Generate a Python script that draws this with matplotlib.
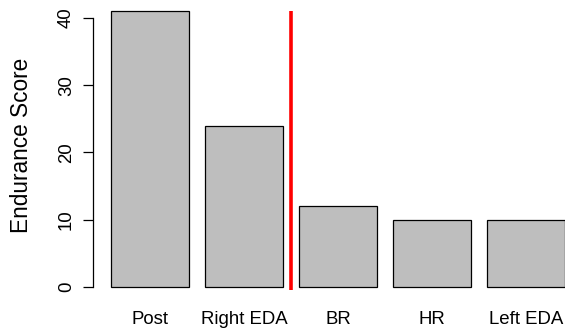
import matplotlib
matplotlib.use("Agg")
import matplotlib.pyplot as plt

plt.rcParams["font.family"] = ["Liberation Sans", "DejaVu Sans"]

# data
categorias = ["Post", "Right EDA", "BR", "HR", "Left EDA"]
scores = [41, 24, 12, 10, 10]
y_ticks = [0, 10, 20, 30, 40]
corte = 2.5  # red separator between bar 2 and bar 3

W, H = 565, 334
fig = plt.figure(figsize=(W / 100, H / 100), dpi=100)

# R barplot style: width 1, space 0.2
px_unit_x = 78.3
x0 = 95.3
ax = fig.add_axes([x0 / W, (H - 298.07) / H, 6.4 * px_unit_x / W, 297.9 / H])

pos = [0.2 + i * 1.2 + 0.5 for i in range(len(scores))]
ax.bar(pos, scores, width=1.0, color="#bebebe", edgecolor="black", linewidth=0.9)

ax.set_xlim(0, 6.4)
ax.set_ylim(-1.64, 42.64)

ax.plot([corte, corte], [-0.45, 41], color="red", linewidth=2.6, solid_capstyle="butt", clip_on=False)

for s in ["top", "right", "bottom"]:
    ax.spines[s].set_visible(False)
ax.spines["left"].set_bounds(0, 40)
ax.spines["left"].set_position(("data", -0.03))
ax.spines["left"].set_linewidth(0.9)

ax.set_yticks(y_ticks)
ax.set_yticklabels([str(v) for v in y_ticks], rotation=90, va="center", fontsize=13.4)
ax.tick_params(axis="y", length=7.2, width=0.9, pad=5.8)

ax.set_xticks(pos)
ax.set_xticklabels(categorias, fontsize=13.4)
ax.tick_params(axis="x", length=0, pad=9)

fig.text(22 / W, (H - 145) / H, "Endurance Score", rotation=90, ha="center", va="center", fontsize=16.3)

fig.savefig("out.png", dpi=100)
